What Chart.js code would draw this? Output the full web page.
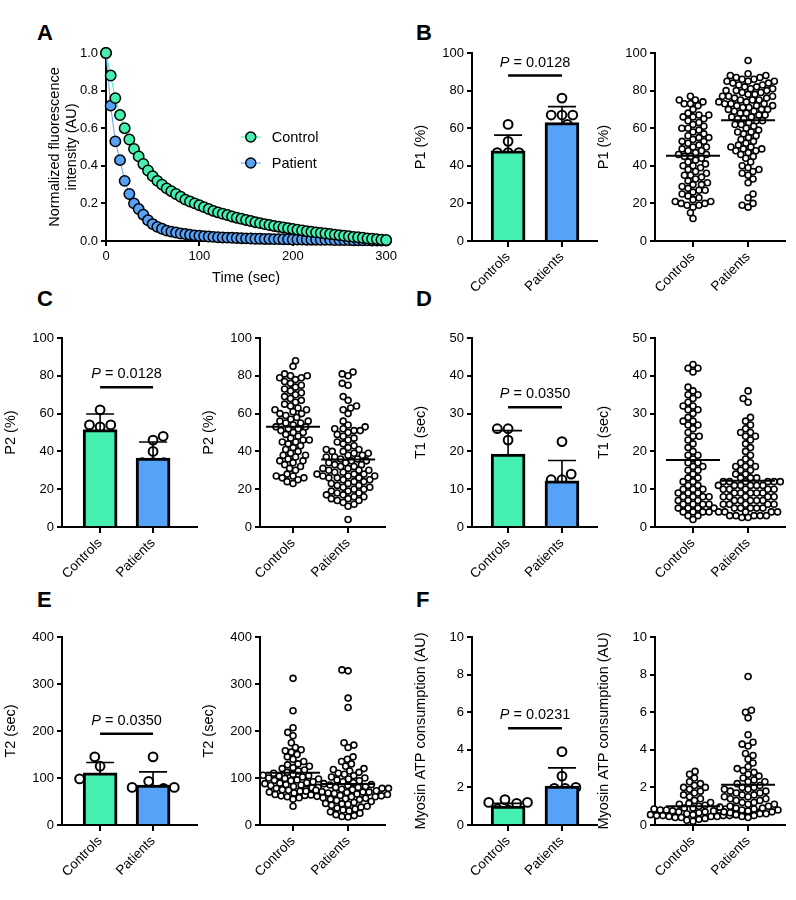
<!DOCTYPE html>
<html><head><meta charset="utf-8">
<script src="https://cdn.jsdelivr.net/npm/chart.js@4"></script>
<style>
body{margin:0;width:796px;height:900px;background:#fff;position:relative;overflow:hidden;font-family:"Liberation Sans",Arial,sans-serif}
.lt{position:absolute;font:bold 22px "Liberation Sans",Arial,sans-serif;color:#000}
canvas{position:absolute}
</style></head><body>
<div class="lt" style="left:37px;top:20px">A</div>
<div class="lt" style="left:416px;top:20px">B</div>
<div class="lt" style="left:37px;top:286px">C</div>
<div class="lt" style="left:416px;top:286px">D</div>
<div class="lt" style="left:37px;top:587px">E</div>
<div class="lt" style="left:416px;top:587px">F</div>
<script>
// ---------- DATA ----------
const categories = ['Controls', 'Patients'];
const controlDecay = [1.0,.88,.76,.67,.60,.54,.49,.45,.41,.375,.345,.32,.30,.28,.265,.25,.235,.22,.21,.20,.19,.18,.17,.16,.152,.145,.138,.13,.124,.118,.112,.106,.10,.095,.09,.085,.08,.076,.072,.068,.064,.06,.056,.052,.049,.046,.043,.04,.037,.034,.031,.028,.025,.022,.02,.017,.014,.012,.01,.007,.005];
const patientDecay = [1.0,.72,.53,.43,.32,.25,.20,.17,.14,.11,.09,.075,.065,.055,.05,.045,.04,.037,.033,.03,.028,.026,.024,.022,.02,.019,.018,.017,.016,.015,.014,.013,.012,.012,.011,.011,.01,.01,.009,.009,.008,.008,.008,.007,.007,.007,.006,.006,.006,.005,.005,.005,.005,.004,.004,.004,.004,.003,.003,.003,.003];

// bar panels: means, SDs, individual subject values
const p1Mean = [48, 63], p1SD = [8.3, 8.5];
const p1Ctrl = [62, 53, 47, 47, 47, 40], p1Pat = [76, 67, 67, 67, 62, 57, 57];
const p2Mean = [51.5, 36.5], p2SD = [8.3, 8.5];
const p2Ctrl = [62, 54, 54, 53, 46, 38], p2Pat = [48, 46, 40, 34, 34, 34, 24];
const t1Mean = [19.3, 12.2], t1SD = [6.2, 5.4];
const t1Ctrl = [26, 26, 23, 15, 15, 11], t1Pat = [22.6, 14, 12.5, 12.5, 9, 6];
const t2Mean = [111, 85], t2SD = [22, 28];
const t2Ctrl = [145, 125, 98, 97, 97, 87], t2Pat = [145, 93, 80, 80, 78, 72, 72];
const atpMean = [1.0, 2.07], atpSD = [0.15, 0.97];
const atpCtrl = [1.35, 1.2, 1.2, 1.15, 0.85, 0.8], atpPat = [3.9, 2.6, 2.0, 1.95, 1.95, 1.4, 0.8];

// all-fibre scatter panels
const p1AllCtrl = [77,75,75,74,73,73,72,70,68,67,67,66,66,65,64,63,62,61,60,60,59,58,57,56,55,55,54,53,53,52,51,50,50,49,48,48,47,46,46,45,45,44,43,42,41,40,40,39,38,37,36,35,35,34,33,32,31,30,30,29,28,27,27,26,25,24,23,22,21,21,20,20,19,19,18,15,12];
const p1AllPat = [96,89,88,88,87,87,86,86,85,85,85,84,84,83,83,82,82,81,81,80,80,80,79,79,78,78,77,77,77,76,76,75,75,75,74,74,73,73,73,72,72,72,71,71,70,70,70,69,69,68,68,67,67,66,66,65,65,64,64,63,62,62,61,60,59,58,58,57,56,55,54,53,52,51,50,50,49,49,48,48,47,46,45,44,42,40,39,38,37,36,35,33,31,25,23,20,19,18];
const p2AllCtrl = [88,85,81,80,80,79,79,78,77,76,75,74,73,72,71,70,69,68,67,66,65,64,63,62,62,61,60,60,59,58,57,56,56,55,55,54,53,53,52,52,51,50,50,49,48,47,46,46,45,45,44,43,42,41,40,39,38,38,37,36,35,35,34,33,32,31,30,28,27,27,26,26,25,24,23];
const p2AllPat = [82,81,80,76,75,69,67,64,63,62,60,56,54,53,52,52,51,51,50,49,48,47,46,45,44,43,42,41,41,40,40,39,39,38,38,37,37,36,36,35,35,34,34,33,33,32,32,31,31,30,30,30,29,29,28,28,28,27,27,27,26,26,26,25,25,24,24,23,23,22,22,21,21,20,20,19,19,18,18,17,17,16,16,15,15,14,14,13,12,11,4];
const t1AllCtrl = [43,42,42,41,37,36,35,35,34,33,32,32,31,31,30,29,28,28,27,27,26,25,24,24,23,22,21,20,19,19,18,17,17,16,16,15,15,14,13,13,12,12,11,11,10,10,10,9,9,9,8,8,8,8,7,7,7,6,6,6,6,5,5,5,5,4,4,4,4,3,3,2];
const t1AllPat = [36,34,33,29,28,27,26,25,25,24,24,23,22,21,20,19,18,17,17,16,16,16,15,15,14,14,13,13,13,12,12,12,12,12,12,11,11,11,11,11,11,10,10,10,10,10,9,9,9,9,9,8,8,8,8,8,7,7,7,7,7,6,6,6,6,6,5,5,5,5,5,4,4,4,4,4,3,3,3,3,3,2.5,2.5];
const t2AllCtrl = [312,243,207,197,190,175,165,160,158,155,150,145,140,135,130,128,125,122,120,117,115,112,110,108,106,105,104,102,100,99,98,96,95,94,92,90,89,88,86,85,84,82,80,79,78,76,75,74,72,70,68,66,65,63,62,60,58,55,40];
const t2AllPat = [330,328,270,250,175,170,165,145,140,135,130,125,120,118,115,112,110,108,105,102,100,98,96,94,92,90,88,86,85,84,82,80,80,78,78,76,75,74,73,72,71,70,70,69,68,67,66,65,64,63,62,61,60,60,58,57,56,55,54,52,50,48,46,45,44,42,40,38,36,34,32,30,28,25,22,20,18,17];
const atpAllCtrl = [2.85,2.7,2.5,2.3,2.2,2.1,2.0,2.0,1.9,1.8,1.7,1.6,1.5,1.4,1.3,1.2,1.15,1.1,1.05,1.0,0.95,0.9,0.9,0.85,0.85,0.8,0.8,0.8,0.75,0.75,0.7,0.7,0.7,0.7,0.65,0.65,0.65,0.6,0.6,0.6,0.6,0.6,0.55,0.55,0.55,0.55,0.5,0.5,0.5,0.5,0.45,0.45,0.45,0.4,0.4,0.35,0.3,0.25,0.2];
const atpAllPat = [7.9,6.1,6.0,5.7,4.8,4.4,4.3,4.2,3.8,3.7,3.5,3.3,3.1,3.0,2.9,2.8,2.7,2.6,2.5,2.4,2.3,2.3,2.2,2.1,2.0,2.0,1.9,1.9,1.8,1.8,1.7,1.7,1.6,1.6,1.5,1.5,1.4,1.4,1.3,1.3,1.2,1.2,1.1,1.1,1.0,1.0,0.95,0.9,0.9,0.85,0.8,0.8,0.75,0.7,0.7,0.65,0.6,0.6,0.55,0.5,0.45,0.4];

// ---------- STYLE / LAYOUT ----------
const GREEN = '#44EFAF', BLUE = '#56A2F7';
const FONT = '"Liberation Sans", Arial, sans-serif';
Chart.defaults.font.family = FONT;
Chart.defaults.color = '#000';
Chart.defaults.animation = false;
const YW = 62, PADT = 12, PADR = 12, XH = 85;

function mkCanvas(axisX, right, top, bottom, xh) {
  const c = document.createElement('canvas');
  const L = axisX - YW, T = top - PADT;
  const w = right - L + PADR, h = bottom - T + (xh || XH);
  c.width = w; c.height = h;
  c.style.left = L + 'px'; c.style.top = T + 'px';
  c.style.width = w + 'px'; c.style.height = h + 'px';
  document.body.appendChild(c);
  return c;
}
function yScale(max, step, title, fmt) {
  return {min: 0, max: max, afterFit: s => { s.width = YW; },
    border: {color: '#000', width: 2},
    grid: {drawOnChartArea: false, color: '#000', lineWidth: 2, tickLength: 5},
    ticks: {stepSize: step, font: {size: 13}, padding: 3, callback: fmt || (v => v)},
    title: {display: true, text: title, font: {size: 14.5}, padding: 2}};
}
function xCat(min, max) {
  return {type: 'linear', min: min, max: max, offset: false, afterFit: s => { s.height = XH; },
    afterBuildTicks: s => { s.ticks = [{value: 0}, {value: 1}]; },
    border: {color: '#000', width: 2},
    grid: {drawOnChartArea: false, offset: false, color: '#000', lineWidth: 2, tickLength: 6},
    ticks: {font: {size: 13.5}, maxRotation: 45, minRotation: 45, autoSkip: false, padding: 2,
      callback: v => categories[v]}};
}

// beeswarm layout of points around category centre (positional only)
const swarm = {id: 'swarm', afterDatasetsUpdate(chart) {
  const r = chart.options.plugins.swarm.r;
  chart.data.datasets.forEach((ds, di) => {
    if (ds.type !== 'scatter') return;
    const meta = chart.getDatasetMeta(di);
    const groups = {};
    meta.data.forEach((el, i) => { const g = ds.data[i].x; (groups[g] = groups[g] || []).push(el); });
    Object.values(groups).forEach(els => {
      els.sort((a, b) => b.y - a.y);
      const placed = [];
      const d = 2 * r;
      els.forEach((el, k) => {
        const cx = el.x;
        const cands = [0];
        placed.forEach(p => { const dy = Math.abs(p.y - el.y); if (dy < d) { const dx = Math.sqrt(d * d - dy * dy) + 0.01; cands.push(p.off + dx, p.off - dx); } });
        cands.sort((a, b) => Math.abs(a) - Math.abs(b) || (k % 2 ? a - b : b - a));
        let off = 0;
        for (const c of cands) { if (placed.every(p => (p.off - c) ** 2 + (p.y - el.y) ** 2 >= d * d - 0.1)) { off = c; break; } }
        placed.push({off, y: el.y});
        el.x = cx + off;
      });
    });
  });
}};

const deco = {id: 'deco',
  beforeDatasetDraw(chart, args) {
    const o = chart.options.plugins.deco;
    if (!o.err || args.index !== 1) return;
    const {x, y} = chart.scales, ctx = chart.ctx;
    ctx.save(); ctx.strokeStyle = '#000'; ctx.lineWidth = 1.6;
    o.err.mean.forEach((m, i) => {
      const px = x.getPixelForValue(i);
      const yt = y.getPixelForValue(m + o.err.sd[i]), yb = y.getPixelForValue(m - o.err.sd[i]);
      ctx.beginPath(); ctx.moveTo(px, yt); ctx.lineTo(px, yb);
      ctx.moveTo(px - 14, yt); ctx.lineTo(px + 14, yt);
      ctx.moveTo(px - 14, yb); ctx.lineTo(px + 14, yb); ctx.stroke();
    });
    ctx.restore();
  },
  afterDatasetsDraw(chart) {
    const o = chart.options.plugins.deco;
    const {x, y} = chart.scales, ctx = chart.ctx;
    ctx.save();
    if (o.means) {
      ctx.strokeStyle = '#000'; ctx.lineWidth = 2;
      o.means.forEach((arr, i) => {
        const m = arr.reduce((a, b) => a + b, 0) / arr.length;
        const px = x.getPixelForValue(i), py = y.getPixelForValue(m);
        ctx.beginPath(); ctx.moveTo(px - 27, py); ctx.lineTo(px + 27, py); ctx.stroke();
      });
    }
    if (o.sig) {
      const x0 = x.getPixelForValue(0), x1 = x.getPixelForValue(1), py = y.getPixelForValue(o.sig.y);
      ctx.strokeStyle = '#000'; ctx.lineWidth = 2.5;
      ctx.beginPath(); ctx.moveTo(x0, py); ctx.lineTo(x1, py); ctx.stroke();
      const a = 'P', b = ' = ' + o.sig.p;
      ctx.font = 'italic 14.5px ' + FONT; const wa = ctx.measureText(a).width;
      ctx.font = '14.5px ' + FONT; const wb = ctx.measureText(b).width;
      let sx = (x0 + x1) / 2 - (wa + wb) / 2; const by = py - 9;
      ctx.fillStyle = '#000'; ctx.textBaseline = 'alphabetic'; ctx.textAlign = 'left';
      ctx.font = 'italic 14.5px ' + FONT; ctx.fillText(a, sx, by);
      ctx.font = '14.5px ' + FONT; ctx.fillText(b, sx + wa, by);
    }
    if (o.legend) {
      o.legend.forEach(L => {
        const px = x.getPixelForValue(L.x), py = y.getPixelForValue(L.y);
        ctx.strokeStyle = L.c; ctx.lineWidth = 1;
        ctx.beginPath(); ctx.moveTo(px - 10, py); ctx.lineTo(px + 10, py); ctx.stroke();
        ctx.beginPath(); ctx.arc(px, py, 5, 0, Math.PI * 2); ctx.fillStyle = L.c; ctx.fill();
        ctx.strokeStyle = '#000'; ctx.lineWidth = 1.5; ctx.stroke();
        ctx.fillStyle = '#000'; ctx.font = '14.5px ' + FONT; ctx.textBaseline = 'middle';
        ctx.fillText(L.t, px + 21, py + 1);
      });
    }
    ctx.restore();
  }};

function barPanel(axisX, right, top, bottom, xmin, xmax, ymax, ystep, ylabel, mean, sd, pc, pp, sigY, pval, fmt) {
  const pts = pc.map(v => ({x: 0, y: v})).concat(pp.map(v => ({x: 1, y: v})));
  new Chart(mkCanvas(axisX, right, top, bottom), {
    data: {datasets: [
      {type: 'bar', data: mean.map((m, i) => ({x: i, y: m})), backgroundColor: [GREEN, BLUE], borderColor: '#000', borderWidth: 3, barThickness: 34},
      {type: 'scatter', data: pts, pointRadius: 4.4, pointBorderWidth: 2, pointBorderColor: '#000', pointBackgroundColor: 'rgba(0,0,0,0)', clip: false}]},
    options: {responsive: false, layout: {padding: {top: PADT, right: PADR}},
      scales: {x: xCat(xmin, xmax), y: yScale(ymax, ystep, ylabel, fmt)},
      plugins: {legend: {display: false}, tooltip: {enabled: false}, swarm: {r: 5.4},
        deco: {err: {mean, sd}, sig: {y: sigY, p: pval}}}},
    plugins: [swarm, deco]});
}
function scatterPanel(axisX, right, top, bottom, xmin, xmax, ymax, ystep, ylabel, ac, ap, fmt) {
  const pts = ac.map(v => ({x: 0, y: v})).concat(ap.map(v => ({x: 1, y: v})));
  new Chart(mkCanvas(axisX, right, top, bottom), {
    data: {datasets: [{type: 'scatter', data: pts, pointRadius: 3, pointBorderWidth: 1.6, pointBorderColor: '#000', pointBackgroundColor: '#fff', clip: false}]},
    options: {responsive: false, layout: {padding: {top: PADT, right: PADR}},
      scales: {x: xCat(xmin, xmax), y: yScale(ymax, ystep, ylabel, fmt)},
      plugins: {legend: {display: false}, tooltip: {enabled: false}, swarm: {r: 3.1},
        deco: {means: [ac, ap]}}},
    plugins: [swarm, deco]});
}

// ---------- PANEL A ----------
(function () {
  const XHA = 50;
  const c = mkCanvas(106, 388, 53, 241, XHA);
  const toXY = arr => arr.map((v, i) => ({x: i * 5, y: v}));
  new Chart(c, {type: 'line',
    data: {datasets: [
      {label: 'Patient', data: toXY(patientDecay), borderColor: BLUE, borderWidth: 1, backgroundColor: BLUE, pointRadius: 5.2, pointBorderColor: '#000', pointBorderWidth: 1.5, pointBackgroundColor: BLUE, clip: false, order: 2},
      {label: 'Control', data: toXY(controlDecay), borderColor: GREEN, borderWidth: 1, backgroundColor: GREEN, pointRadius: 5.2, pointBorderColor: '#000', pointBorderWidth: 1.5, pointBackgroundColor: GREEN, clip: false, order: 1}]},
    options: {responsive: false, layout: {padding: {top: PADT, right: PADR}},
      scales: {
        x: {type: 'linear', min: 0, max: 300, afterFit: s => { s.height = XHA; },
          border: {color: '#000', width: 2}, grid: {drawOnChartArea: false, color: '#000', lineWidth: 2, tickLength: 5},
          ticks: {stepSize: 100, font: {size: 13}, maxRotation: 0},
          title: {display: true, text: 'Time (sec)', font: {size: 14.5}, padding: {top: 4}}},
        y: yScale(1, 0.2, ['Normalized fluorescence', 'intensity (AU)'], v => v.toFixed(1))},
      plugins: {legend: {display: false}, tooltip: {enabled: false},
        deco: {legend: [{x: 155, y: 0.553, c: GREEN, t: 'Control'}, {x: 155, y: 0.415, c: BLUE, t: 'Patient'}]}}},
    plugins: [deco]});
})();

// ---------- BAR + SCATTER PANELS ----------
const LB = [62, 197, -0.72, 1.83], LS = [260, 385, -0.6, 1.67];
const RB = [472, 597, -0.67, 1.65], RS = [655, 785, -0.69, 1.67];
const R1 = [53, 241], R2 = [338, 527], R3 = [637, 825];

barPanel(RB[0], RB[1], R1[0], R1[1], RB[2], RB[3], 100, 20, 'P1 (%)', p1Mean, p1SD, p1Ctrl, p1Pat, 88, '0.0128');
scatterPanel(RS[0], RS[1], R1[0], R1[1], RS[2], RS[3], 100, 20, 'P1 (%)', p1AllCtrl, p1AllPat);
barPanel(LB[0], LB[1], R2[0], R2[1], LB[2], LB[3], 100, 20, 'P2 (%)', p2Mean, p2SD, p2Ctrl, p2Pat, 74, '0.0128');
scatterPanel(LS[0], LS[1], R2[0], R2[1], LS[2], LS[3], 100, 20, 'P2 (%)', p2AllCtrl, p2AllPat);
barPanel(RB[0], RB[1], R2[0], R2[1], RB[2], RB[3], 50, 10, 'T1 (sec)', t1Mean, t1SD, t1Ctrl, t1Pat, 31.7, '0.0350');
scatterPanel(RS[0], RS[1], R2[0], R2[1], RS[2], RS[3], 50, 10, 'T1 (sec)', t1AllCtrl, t1AllPat);
barPanel(LB[0], LB[1], R3[0], R3[1], LB[2], LB[3], 400, 100, 'T2 (sec)', t2Mean, t2SD, t2Ctrl, t2Pat, 194, '0.0350');
scatterPanel(LS[0], LS[1], R3[0], R3[1], LS[2], LS[3], 400, 100, 'T2 (sec)', t2AllCtrl, t2AllPat);
barPanel(RB[0], RB[1], R3[0], R3[1], RB[2], RB[3], 10, 2, 'Myosin ATP consumption (AU)', atpMean, atpSD, atpCtrl, atpPat, 5.15, '0.0231');
scatterPanel(RS[0], RS[1], R3[0], R3[1], RS[2], RS[3], 10, 2, 'Myosin ATP consumption (AU)', atpAllCtrl, atpAllPat);
</script></body></html>
